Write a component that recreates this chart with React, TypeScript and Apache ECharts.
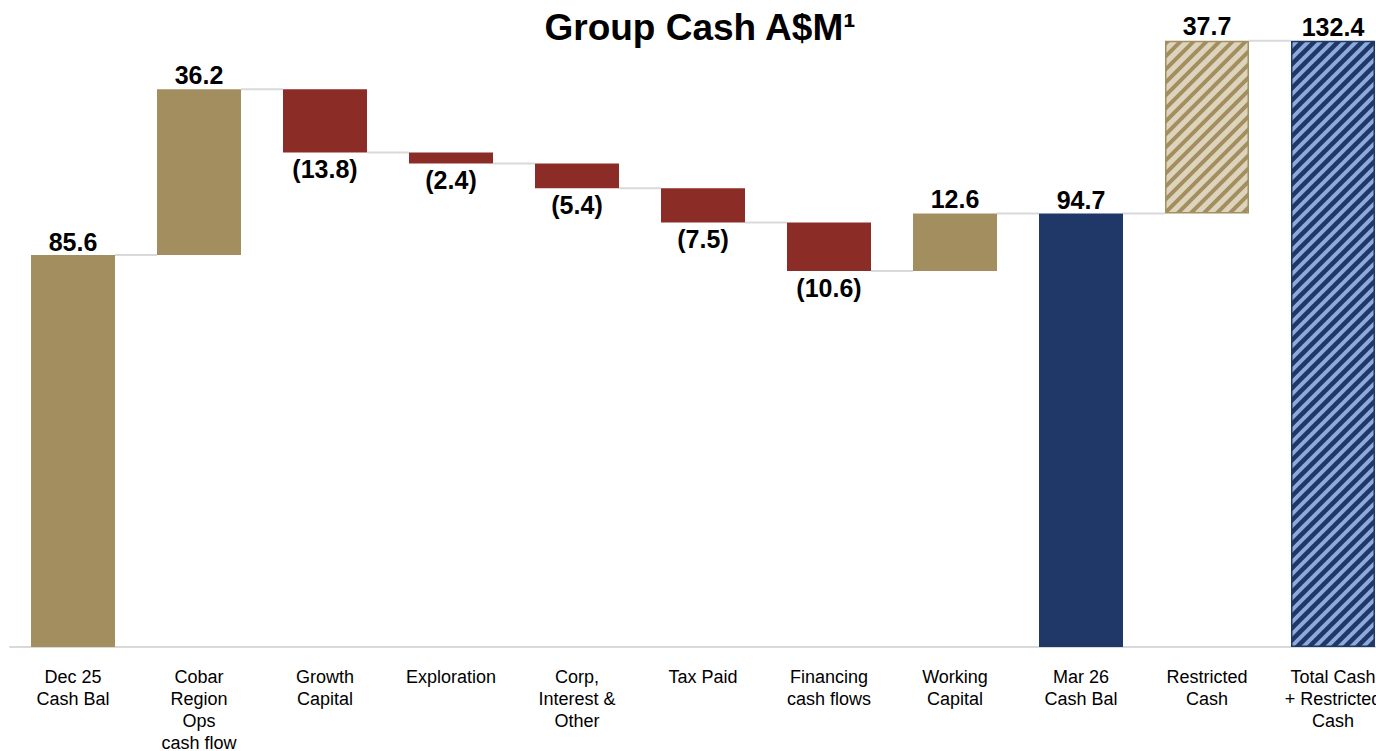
import React, { useEffect, useRef } from "react";
import * as echarts from "echarts";

const categories = [
  "Dec 25\nCash Bal",
  "Cobar\nRegion\nOps\ncash flow",
  "Growth\nCapital",
  "Exploration",
  "Corp,\nInterest &\nOther",
  "Tax Paid",
  "Financing\ncash flows",
  "Working\nCapital",
  "Mar 26\nCash Bal",
  "Restricted\nCash",
  "Total Cash\n+ Restricted\nCash",
];
// "total" bars start at zero, "delta" bars float on the running balance
const kinds = ["total", "delta", "delta", "delta", "delta", "delta", "delta", "delta", "total", "delta", "total"];
const values = [85.6, 36.2, -13.8, -2.4, -5.4, -7.5, -10.6, 12.6, 94.7, 37.7, 132.4];
const styles = ["gold", "gold", "red", "red", "red", "red", "red", "gold", "navy", "tanHatch", "blueHatch"];

const FONT = "'Liberation Sans', Arial, Helvetica, sans-serif";
const BAR_W = 84;

function makePattern(bg: string, fg: string, period: number, lw: number) {
  const T = period * 4;
  const c = document.createElement("canvas");
  c.width = T;
  c.height = T;
  const ctx = c.getContext("2d")!;
  ctx.fillStyle = bg;
  ctx.fillRect(0, 0, T, T);
  ctx.strokeStyle = fg;
  ctx.lineWidth = lw;
  ctx.beginPath();
  for (let k = -1; k <= 9; k++) {
    const cc = k * period; // line x + y = cc
    ctx.moveTo(cc + T, -T);
    ctx.lineTo(cc - 2 * T, 2 * T);
  }
  ctx.stroke();
  return { image: c.toDataURL(), repeat: "repeat", imageWidth: T, imageHeight: T } as any;
}

export default function App() {
  const ref = useRef<HTMLDivElement>(null);
  useEffect(() => {
    if (!ref.current) return;
    const chart = echarts.init(ref.current, null, { renderer: "svg" });

    const colorMap: Record<string, any> = {
      gold: { color: "#A38E5F" },
      red: { color: "#8B2D26" },
      navy: { color: "#1F3868" },
      tanHatch: { color: makePattern("#DDD4BD", "#A38E5F", 13, 4), borderColor: "#A38E5F", borderWidth: 1.5 },
      blueHatch: { color: makePattern("#8EAADC", "#1F3868", 12, 4.5), borderColor: "#1F3868", borderWidth: 1.5 },
    };

    const base: number[] = [];
    const vis: any[] = [];
    const levels: number[] = [];
    let running = 0;
    values.forEach((v, i) => {
      if (kinds[i] === "total") {
        base.push(0);
        running = v;
        vis.push({ value: v, itemStyle: colorMap[styles[i]], label: { position: "top", distance: 1 } });
      } else {
        const start = running;
        const end = running + v;
        base.push(Math.min(start, end));
        running = end;
        vis.push({
          value: Math.abs(v),
          itemStyle: colorMap[styles[i]],
          label: { position: v < 0 ? "bottom" : "top", distance: v < 0 ? 4 : 2 },
        });
      }
      levels.push(Math.round(running * 10) / 10);
    });

    const connectors = levels.slice(0, -1).map((l, i) => [i, l]);

    chart.setOption({
      animation: false,
      title: {
        text: "Group Cash A$M¹",
        left: "center",
        top: 4,
        textStyle: { fontFamily: FONT, fontSize: 37, fontWeight: "bold", color: "#000" },
      },
      grid: { left: 10, width: 1386, top: 6, height: 641, containLabel: false, outerBoundsMode: "none" },
      xAxis: {
        type: "category",
        data: categories,
        axisLine: { lineStyle: { color: "#D9D9D9", width: 2 } },
        axisTick: { show: false },
        axisLabel: {
          fontFamily: FONT,
          fontSize: 18,
          lineHeight: 22,
          color: "#000",
          margin: 19,
          interval: 0,
        },
      },
      yAxis: { type: "value", min: 0, max: 140, show: false, splitLine: { show: false } },
      series: [
        {
          type: "custom",
          data: connectors,
          z: 1,
          renderItem: (params: any, api: any) => {
            const i = api.value(0);
            const lv = api.value(1);
            const p = api.coord([i, lv]);
            const bw = api.size([1, 0])[0];
            return {
              type: "line",
              shape: { x1: p[0] + BAR_W / 2, y1: p[1], x2: p[0] + bw - BAR_W / 2, y2: p[1] },
              style: { stroke: "#D9D9D9", lineWidth: 2 },
            };
          },
        },
        {
          type: "bar",
          stack: "w",
          data: base,
          barWidth: BAR_W,
          itemStyle: { color: "transparent" },
          silent: true,
          z: 2,
        },
        {
          type: "bar",
          stack: "w",
          data: vis,
          barWidth: BAR_W,
          z: 3,
          label: {
            show: true,
            fontFamily: FONT,
            fontSize: 25,
            fontWeight: "bold",
            color: "#000",
            formatter: (p: any) => {
              const v = values[p.dataIndex];
              return v < 0 ? "(" + Math.abs(v).toFixed(1) + ")" : v.toFixed(1);
            },
          },
        },
      ],
    });
    return () => chart.dispose();
  }, []);

  return (
    <div style={{ position: "fixed", left: 0, top: 0, width: 1376, height: 751, overflow: "hidden", background: "#fff" }}>
      <div ref={ref} style={{ width: 1400, height: 751 }} />
    </div>
  );
}
